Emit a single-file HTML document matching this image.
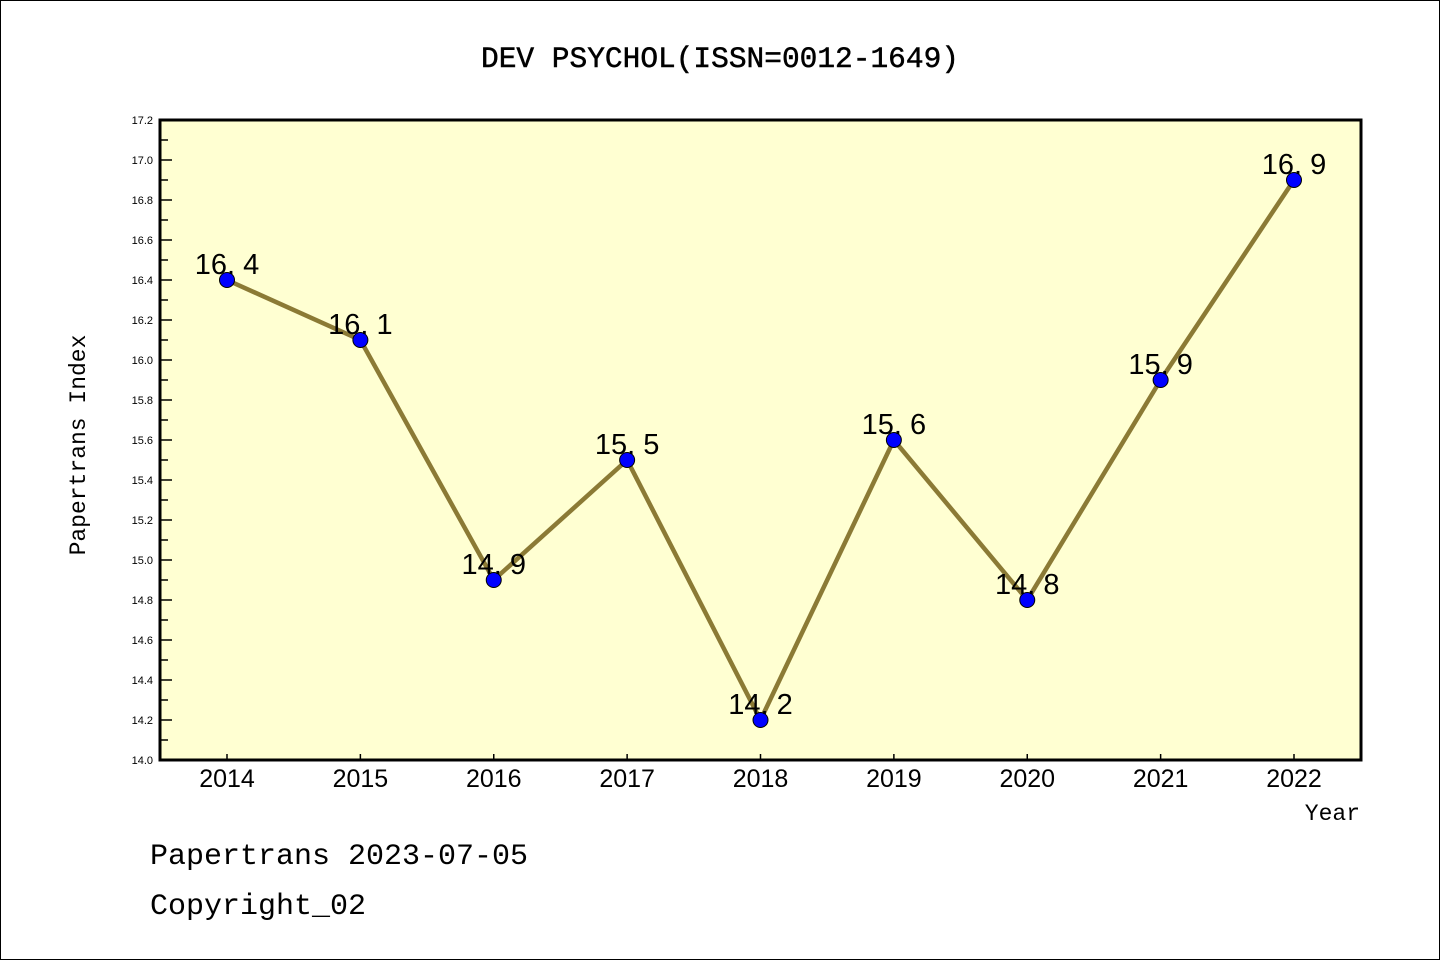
<!DOCTYPE html>
<html><head><meta charset="utf-8"><style>
body{margin:0;background:#fff;}
svg{display:block;font-family:"Liberation Mono","DejaVu Sans Mono",monospace;}
</style></head><body>
<svg id="chart" width="1440" height="960" xmlns="http://www.w3.org/2000/svg">
<rect x="0.5" y="0.5" width="1439" height="959" fill="#fff" stroke="#000"/>
<text x="720" y="67" text-anchor="middle" font-size="29.5" stroke="#000" stroke-width="0.5">DEV PSYCHOL(ISSN=0012-1649)</text>
<rect x="160" y="120" width="1201" height="640" fill="#ffffd2"/>
<g id="yticks"></g><g id="xticks"></g>
<rect x="160" y="120" width="1201" height="640" fill="none" stroke="#000" stroke-width="3"/>
<g id="series"></g>
<text transform="translate(85,445) rotate(-90)" text-anchor="middle" font-size="23">Papertrans Index</text>
<text x="1360" y="820" text-anchor="end" font-size="23">Year</text>
<text x="150" y="864" font-size="30">Papertrans 2023-07-05</text>
<text x="150" y="914" font-size="30">Copyright_02</text>
</svg>
<script>
const years = [2014,2015,2016,2017,2018,2019,2020,2021,2022];
const values = [16.4,16.1,14.9,15.5,14.2,15.6,14.8,15.9,16.9];
const yTickLabels = ["14.0","14.2","14.4","14.6","14.8","15.0","15.2","15.4","15.6","15.8","16.0","16.2","16.4","16.6","16.8","17.0","17.2"];
const NS="http://www.w3.org/2000/svg";
const yMin=14.0,yMax=17.2;
function yS(v){return 760-(v-yMin)/(yMax-yMin)*640;}
function xS(i){return 227+i*(1294-227)/(years.length-1);}
function mk(t,a,p){const e=document.createElementNS(NS,t);for(const k in a)e.setAttribute(k,a[k]);p.appendChild(e);return e;}
const yt=document.getElementById('yticks');
yTickLabels.forEach((l,i)=>{const y=yS(parseFloat(l));
 const t=mk('line',{x1:160,x2:172,y1:y,y2:y,stroke:'#000','stroke-width':1.5},yt);
 
 
 const tx=mk('text',{x:153,y:y+4,'text-anchor':'end','font-size':11,'font-family':'Liberation Sans, sans-serif'},yt);tx.textContent=l;
 
 
 if(i<yTickLabels.length-1){const ym=yS(parseFloat(l)+0.1);
  const m=mk('line',{x1:160,x2:168,y1:ym,y2:ym,stroke:'#000','stroke-width':1.5},yt);
  
  }
});
const xt=document.getElementById('xticks');
years.forEach((yr,i)=>{const x=xS(i);
 const t=mk('line',{x1:x,x2:x,y1:760,y2:754,stroke:'#000','stroke-width':1.5},xt);
 
 
 const tx=mk('text',{x:x,y:787,'text-anchor':'middle','font-size':25,'font-family':'Liberation Sans, sans-serif'},xt);tx.textContent=yr;
 
 
});
const s=document.getElementById('series');
const pl=mk('polyline',{points:values.map((v,i)=>xS(i)+','+yS(v)).join(' '),fill:'none',stroke:'#8b7a35','stroke-width':4.5},s);


values.forEach((v,i)=>{
 const c=mk('circle',{cx:xS(i),cy:yS(v),r:7.5,fill:'#0000ff',stroke:'#000','stroke-width':1},s);
 
 
 const t=mk('text',{x:xS(i),y:yS(v)-6,'text-anchor':'middle','font-size':29,'font-family':'Liberation Sans, sans-serif'},s);
 t.textContent=v.toFixed(1).replace('.','. ');
 
 
});
</script>
</body></html>
